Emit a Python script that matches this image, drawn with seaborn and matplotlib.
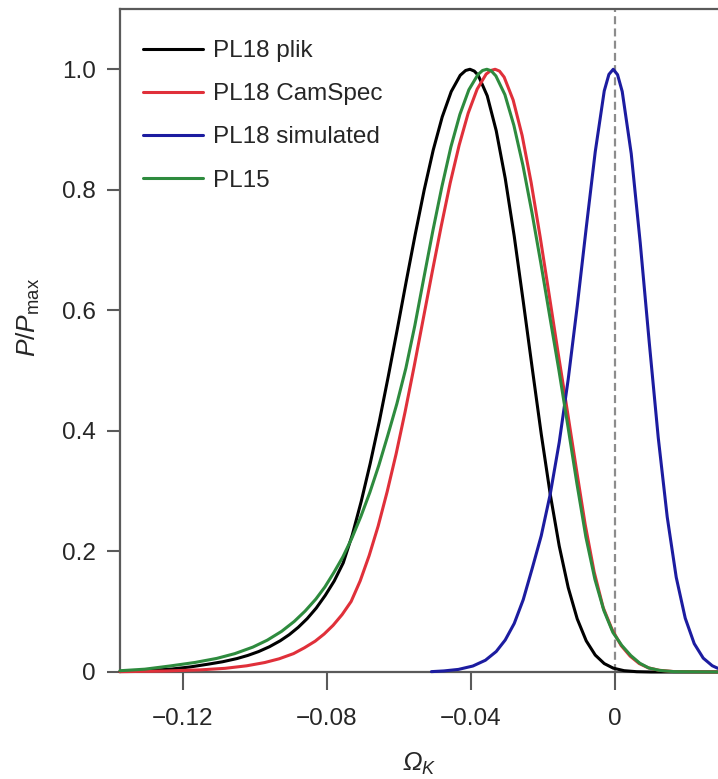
import matplotlib
matplotlib.use("Agg")
import matplotlib.pyplot as plt
import pandas as pd
import seaborn as sns

# ---------------- data ----------------
series_names = ["PL18 plik", "PL18 CamSpec", "PL18 simulated", "PL15"]
series_colors = ["#000000", "#e0303a", "#1c1ca0", "#2e8b3e"]

plik_x = [-0.1375, -0.129, -0.123, -0.118, -0.113, -0.109, -0.105, -0.102, -0.099, -0.096,
          -0.093, -0.0905, -0.088, -0.0855, -0.083, -0.0805, -0.078, -0.0755, -0.073, -0.0705,
          -0.068, -0.0655, -0.063, -0.0605, -0.058, -0.0555, -0.053, -0.0505, -0.048, -0.0455,
          -0.043, -0.0415, -0.0403, -0.0391, -0.038, -0.0355, -0.033, -0.0305, -0.028, -0.0255,
          -0.023, -0.0205, -0.018, -0.0155, -0.013, -0.0105, -0.008, -0.0055, -0.003, -0.0005,
          0.0025, 0.006, 0.010, 0.0286]
plik_y = [0.001, 0.0026, 0.005, 0.0084, 0.013, 0.017, 0.0223, 0.0275, 0.0339, 0.0419,
          0.0518, 0.0619, 0.0741, 0.0886, 0.106, 0.127, 0.151, 0.181, 0.227, 0.283,
          0.346, 0.415, 0.490, 0.568, 0.648, 0.726, 0.800, 0.866, 0.921, 0.963,
          0.990, 0.998, 1.000, 0.997, 0.990, 0.956, 0.898, 0.819, 0.723, 0.615,
          0.504, 0.395, 0.295, 0.209, 0.140, 0.0881, 0.0517, 0.0281, 0.0140, 0.0064,
          0.0022, 0.0005, 0.0, 0.0]

camspec_x = [-0.1375, -0.1253, -0.1153, -0.1083, -0.1023, -0.0973, -0.0933, -0.0893, -0.0863,
             -0.0833, -0.0808, -0.0783, -0.0758, -0.0733, -0.0708, -0.0683, -0.0658, -0.0633,
             -0.0608, -0.0583, -0.0558, -0.0533, -0.0508, -0.0483, -0.0458, -0.0433, -0.0408,
             -0.0383, -0.0358, -0.0345, -0.0333, -0.0321, -0.0308, -0.0283, -0.0258, -0.0233,
             -0.0208, -0.0183, -0.0158, -0.0133, -0.0108, -0.0083, -0.0058, -0.0033, -0.0008,
             0.0017, 0.0042, 0.0067, 0.0092, 0.0122, 0.0162, 0.0286]
camspec_y = [0.0005, 0.0016, 0.0035, 0.0061, 0.0103, 0.0157, 0.0219, 0.0305, 0.0401,
             0.0511, 0.0630, 0.0775, 0.0953, 0.117, 0.151, 0.193, 0.242, 0.299,
             0.362, 0.432, 0.507, 0.585, 0.663, 0.739, 0.811, 0.874, 0.927,
             0.967, 0.992, 0.998, 1.000, 0.997, 0.987, 0.949, 0.890, 0.812,
             0.722, 0.626, 0.529, 0.435, 0.339, 0.245, 0.166, 0.107, 0.0702,
             0.0439, 0.0263, 0.0141, 0.0070, 0.0029, 0.0008, 0.0]

simulated_x = [-0.051, -0.0475, -0.0435, -0.0395, -0.036, -0.033, -0.0305, -0.028, -0.0255,
               -0.023, -0.0205, -0.018, -0.0155, -0.013, -0.0105, -0.008, -0.0055, -0.003,
               -0.0017, -0.0005, 0.0007, 0.002, 0.0045, 0.007, 0.0095, 0.012, 0.0145,
               0.017, 0.0195, 0.022, 0.0245, 0.027, 0.0286]
simulated_y = [0.0006, 0.0018, 0.0043, 0.0099, 0.0195, 0.0340, 0.0531, 0.0805, 0.120,
               0.172, 0.226, 0.295, 0.381, 0.486, 0.607, 0.737, 0.863, 0.964,
               0.9915, 1.000, 0.991, 0.963, 0.860, 0.712, 0.547, 0.389, 0.257,
               0.157, 0.0893, 0.0470, 0.0230, 0.0104, 0.0060]

pl15_x = [-0.1375, -0.1306, -0.1236, -0.1166, -0.1106, -0.1056, -0.1006, -0.0966, -0.0926,
          -0.0891, -0.0861, -0.0831, -0.0806, -0.0781, -0.0756, -0.0731, -0.0706, -0.0681,
          -0.0656, -0.0631, -0.0606, -0.0581, -0.0556, -0.0531, -0.0506, -0.0481, -0.0456,
          -0.0431, -0.0406, -0.0381, -0.0368, -0.0356, -0.0344, -0.0331, -0.0306, -0.0281,
          -0.0256, -0.0231, -0.0206, -0.0181, -0.0156, -0.0131, -0.0106, -0.0081, -0.0056,
          -0.0031, -0.0006, 0.0019, 0.0044, 0.0069, 0.0094, 0.0124, 0.0164, 0.0286]
pl15_y = [0.0021, 0.0047, 0.0100, 0.0159, 0.0226, 0.0305, 0.0413, 0.0528, 0.0675,
          0.0839, 0.101, 0.121, 0.141, 0.165, 0.191, 0.222, 0.258, 0.298,
          0.343, 0.393, 0.445, 0.504, 0.575, 0.654, 0.732, 0.805, 0.871,
          0.925, 0.966, 0.991, 0.998, 1.000, 0.9975, 0.989, 0.958, 0.907,
          0.841, 0.763, 0.678, 0.589, 0.501, 0.408, 0.313, 0.224, 0.154,
          0.102, 0.0657, 0.0439, 0.0272, 0.0145, 0.0066, 0.0026, 0.0006, 0.0]

xticks = [-0.12, -0.08, -0.04, 0.0]
xtick_labels = ["\u22120.12", "\u22120.08", "\u22120.04", "0"]
yticks = [0.0, 0.2, 0.4, 0.6, 0.8, 1.0]
ytick_labels = ["0", "0.2", "0.4", "0.6", "0.8", "1.0"]

# ---------------- table ----------------
frames = []
for name, xs, ys in zip(series_names,
                        [plik_x, camspec_x, simulated_x, pl15_x],
                        [plik_y, camspec_y, simulated_y, pl15_y]):
    frames.append(pd.DataFrame({"omega": xs, "p": ys, "series": name}))
df = pd.concat(frames, ignore_index=True)

# ---------------- style ----------------
sns.set_style("ticks")
plt.rcParams["font.family"] = ["Liberation Sans", "DejaVu Sans"]
plt.rcParams["mathtext.fontset"] = "custom"
plt.rcParams["mathtext.rm"] = "Liberation Sans"
plt.rcParams["mathtext.it"] = "Liberation Sans:italic"
plt.rcParams["mathtext.bf"] = "Liberation Sans:italic"
plt.rcParams["axes.unicode_minus"] = True

FS = 17.5
spine_col = "#5a5a5a"

fig = plt.figure(figsize=(7.18, 7.79), dpi=100)
ax = fig.add_axes([120 / 718, 1 - 672 / 779, 598 / 718, 663 / 779])

ax.axvline(0, color="#8c8c8c", lw=1.6, ls=(0, (3.6, 1.9)), zorder=1)

sns.lineplot(data=df, x="omega", y="p", hue="series", hue_order=series_names,
             palette=dict(zip(series_names, series_colors)), estimator=None,
             sort=True, linewidth=2.2, ax=ax, zorder=3)
for ln in ax.lines:
    ln.set_clip_on(False)
    ln.set_solid_joinstyle("round")

ax.set_xlim(-0.1375, 0.0286)
ax.set_ylim(0, 1.1)
ax.set_xticks(xticks)
ax.set_xticklabels(xtick_labels)
ax.set_yticks(yticks)
ax.set_yticklabels(ytick_labels)

ax.tick_params(axis="x", direction="out", length=13, width=1.5, color=spine_col,
               labelsize=FS, pad=13)
ax.tick_params(axis="y", direction="out", length=9.5, width=1.5, color=spine_col,
               labelsize=FS, pad=8)

for side in ["left", "bottom", "top"]:
    ax.spines[side].set_color(spine_col)
    ax.spines[side].set_linewidth(1.6)
ax.spines["right"].set_visible(False)

ax.set_xlabel(r"$\mathbf{\Omega}_{\mathbf{K}}$", fontsize=FS + 1, labelpad=15)
ax.set_ylabel(r"$P/P_{\rm max}$", fontsize=FS + 1.5)
ax.yaxis.set_label_coords(-0.131, 0.535)

handles, labels = ax.get_legend_handles_labels()
leg = ax.legend(handles, labels, loc="upper left", frameon=False, fontsize=FS,
                handlelength=2.5, handletextpad=0.4, labelspacing=0.87,
                borderpad=0, borderaxespad=0, bbox_to_anchor=(0.038, 0.953))
for h in leg.get_lines():
    h.set_linewidth(2.2)

fig.savefig("out.png", dpi=100)
